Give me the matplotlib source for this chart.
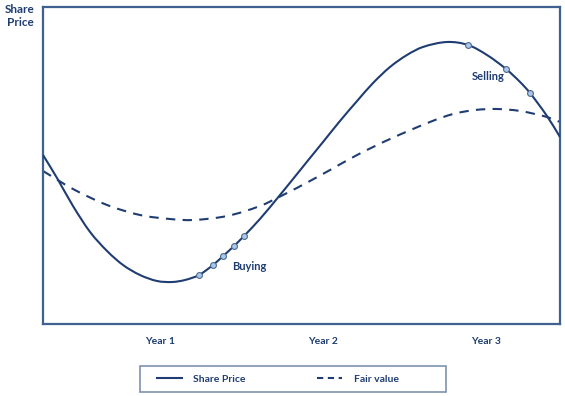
import matplotlib
matplotlib.use("Agg")
import matplotlib.pyplot as plt
from matplotlib.path import Path
from matplotlib.patches import PathPatch, Rectangle
from matplotlib.lines import Line2D

# ---- data (x in years, y in arbitrary price units) ----
price_x = [0.282, 0.368, 0.466, 0.571, 0.675, 0.773, 0.877, 0.982, 1.074, 1.153,
           1.239, 1.325, 1.387, 1.454, 1.515, 1.613, 1.736, 1.816, 1.920, 2.000,
           2.104, 2.209, 2.307, 2.411, 2.515, 2.613, 2.761, 2.890, 3.006, 3.123,
           3.209, 3.270, 3.374, 3.454]
price_y = [169, 146, 118, 92, 73, 59, 49, 43, 42, 44,
           49, 59, 68, 78, 88, 105, 129, 145, 166, 182,
           203, 223, 241, 257, 269, 277, 282, 279, 269, 255,
           242, 231, 208, 187]

fair_x = [0.282, 0.466, 0.675, 0.877, 1.061, 1.202, 1.411, 1.613, 1.755, 1.920,
          2.043, 2.209, 2.411, 2.656, 2.798, 2.933, 3.067, 3.209, 3.374, 3.454]
fair_y = [153, 135, 119, 109, 105, 104, 108, 118, 129, 143,
          154, 169, 185, 202, 210, 214, 215, 213, 207, 202]

buy_idx = [10, 11, 12, 13, 14]
sell_idx = [27, 29, 31]

year_ticks = [1, 2, 3]
year_labels = ["Year 1", "Year 2", "Year 3"]

navy = "#1F3D72"
spine_c = "#3E6190"
font = "Lato"

def smooth_path(xs, ys):
    # cubic Hermite (finite-difference tangents) drawn as Bezier segments
    n = len(xs)
    m = []
    for i in range(n):
        a = max(i - 1, 0)
        b = min(i + 1, n - 1)
        m.append((ys[b] - ys[a]) / (xs[b] - xs[a]))
    verts = [(xs[0], ys[0])]
    codes = [Path.MOVETO]
    for i in range(n - 1):
        dx = xs[i + 1] - xs[i]
        c1 = (xs[i] + dx / 3.0, ys[i] + m[i] * dx / 3.0)
        c2 = (xs[i + 1] - dx / 3.0, ys[i + 1] - m[i + 1] * dx / 3.0)
        verts += [c1, c2, (xs[i + 1], ys[i + 1])]
        codes += [Path.CURVE4] * 3
    return Path(verts, codes)

fig = plt.figure(figsize=(5.65, 3.96), dpi=100)
ax = fig.add_axes([43 / 565, 1 - 324 / 396, (560 - 43) / 565, (324 - 7) / 396])
ax.set_xlim(0.282, 3.454)
ax.set_ylim(0, 317)

ax.add_patch(PathPatch(smooth_path(price_x, price_y), fill=False, edgecolor=navy,
                       lw=1.5, capstyle="butt", zorder=3))
ax.add_patch(PathPatch(smooth_path(fair_x, fair_y), fill=False, edgecolor=navy,
                       lw=1.5, linestyle=(0, (4.5, 3.5)), zorder=2))

mx = [price_x[i] for i in buy_idx + sell_idx]
my = [price_y[i] for i in buy_idx + sell_idx]
ax.plot(mx, my, linestyle="none", marker="o", ms=4.2, mfc="#A9C8EC",
        mec="#4F6A8C", mew=0.8, zorder=4)

ax.text(1.442, 57, "Buying", fontsize=8, fontweight="bold", color=navy,
        family=font, ha="left", va="center")
ax.text(2.914, 248, "Selling", fontsize=8, fontweight="bold", color=navy,
        family=font, ha="left", va="center")

ax.set_xticks(year_ticks)
ax.set_xticklabels(year_labels, fontsize=7.5, fontweight="bold", color=navy, family=font)
ax.tick_params(axis="x", length=0, pad=9)
ax.set_yticks([])
for s in ax.spines.values():
    s.set_color(spine_c)
    s.set_linewidth(1.6)

fig.text(20 / 565, 1 - 4 / 396, "Share\nPrice", fontsize=8.5, fontweight="bold",
         color=navy, family=font, ha="center", va="top", linespacing=1.25)

# legend
fig.patches.append(Rectangle((140 / 565, 1 - 392 / 396), 306 / 565, 26 / 396,
                             transform=fig.transFigure, fill=False,
                             edgecolor="#7F93AE", lw=1.2))
handles = [Line2D([], [], color=navy, lw=1.5),
           Line2D([], [], color=navy, lw=1.5, linestyle=(0, (3, 2.2)))]
leg = fig.legend(handles, ["Share Price", "Fair value"], loc="center left",
                 bbox_to_anchor=(157 / 565, 1 - 379 / 396), ncol=2, frameon=False,
                 borderpad=0, borderaxespad=0, handlelength=2.4, handletextpad=1.1,
                 columnspacing=6.85, prop={"family": font, "weight": "bold", "size": 7.5})
for t in leg.get_texts():
    t.set_color(navy)

fig.savefig("out.png", dpi=100)
